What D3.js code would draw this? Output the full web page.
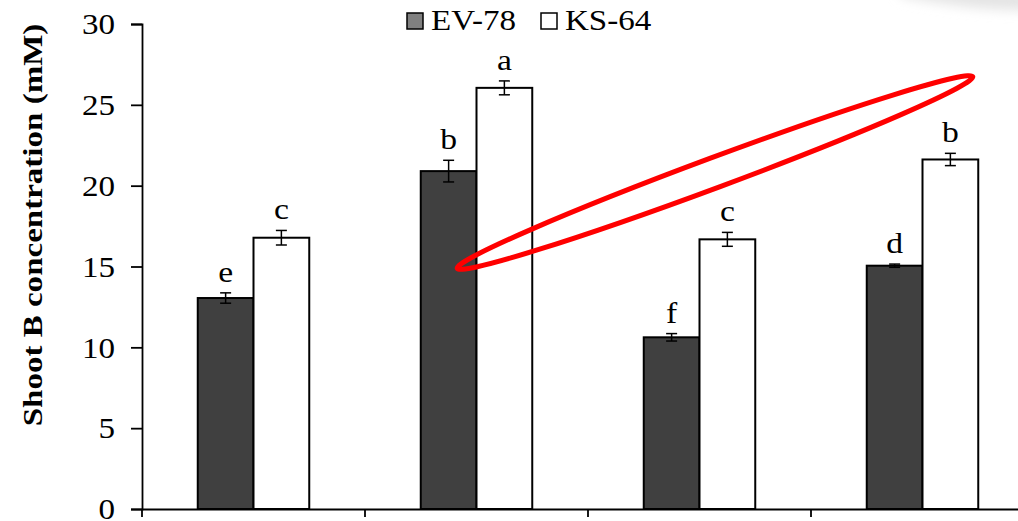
<!DOCTYPE html>
<html>
<head>
<meta charset="utf-8">
<script src="https://cdn.jsdelivr.net/npm/d3@7"></script>
<style>
  html, body { margin: 0; padding: 0; background: #fff; }
  svg { display: block; }
  text { font-family: "Liberation Serif", "Times New Roman", serif; fill: #000; }
</style>
</head>
<body>
<svg id="chart" width="1018" height="521"></svg>
<script>
// Shoot boron concentration for two genotypes across four treatments
const categories = ["T1", "T2", "T3", "T4"];
const seriesNames = ["EV-78", "KS-64"];
const ev78 = [13.05, 20.9, 10.62, 15.05];
const ks64 = [16.78, 26.05, 16.68, 21.62];
const ev78Err = [0.32, 0.67, 0.23, 0.1];
const ks64Err = [0.45, 0.43, 0.43, 0.38];
const ev78Letters = ["e", "b", "f", "d"];
const ks64Letters = ["c", "a", "c", "b"];
const yTicks = [0, 5, 10, 15, 20, 25, 30];

const seriesFill = ["#404040", "#ffffff"];
const legendFill = ["#808080", "#ffffff"];
const wide = "scale(1.16,1)"; // slightly widened serif glyphs

const svg = d3.select("#chart");

const rows = categories.map((c, i) => ({
  cat: c,
  vals: [
    { s: 0, v: ev78[i], e: ev78Err[i], l: ev78Letters[i] },
    { s: 1, v: ks64[i], e: ks64Err[i], l: ks64Letters[i] }
  ]
}));

const x0 = d3.scaleBand().domain(categories).range([142, 1034]).paddingInner(0.5).paddingOuter(0.25);
const xAxisScale = d3.scaleBand().domain(categories).range([142, 1034]);
const x1 = d3.scaleBand().domain([0, 1]).range([0, x0.bandwidth()]);
const y = d3.scaleLinear().domain([0, 30]).range([509, 24]);

// top-right soft shadow
const defs = svg.append("defs");
defs.append("filter").attr("id", "soft").attr("x", "-50%").attr("y", "-50%").attr("width", "200%").attr("height", "200%")
  .append("feGaussianBlur").attr("stdDeviation", 6);
svg.append("path")
  .attr("d", "M900,-20 L1040,-20 L1040,10 Q980,12 900,-4 Z")
  .attr("fill", "#e4e4e4")
  .attr("filter", "url(#soft)");

// bars
const g = svg.append("g").selectAll("g").data(rows).join("g")
  .attr("transform", d => `translate(${x0(d.cat)},0)`);

g.selectAll("rect").data(d => d.vals).join("rect")
  .attr("x", d => x1(d.s))
  .attr("y", d => y(d.v))
  .attr("width", x1.bandwidth())
  .attr("height", d => y(0) - y(d.v))
  .attr("fill", d => seriesFill[d.s])
  .attr("stroke", "#000")
  .attr("stroke-width", 2);

// error bars
const cx = d => x1(d.s) + x1.bandwidth() / 2;
const eb = g.selectAll("g.err").data(d => d.vals).join("g").attr("class", "err")
  .attr("stroke", "#000").attr("stroke-width", 1.5);
eb.append("line")
  .attr("x1", cx).attr("x2", cx)
  .attr("y1", d => y(d.v + d.e)).attr("y2", d => y(d.v - d.e));
eb.append("line")
  .attr("x1", d => cx(d) - 5.5).attr("x2", d => cx(d) + 5.5)
  .attr("y1", d => y(d.v + d.e)).attr("y2", d => y(d.v + d.e));
eb.append("line")
  .attr("x1", d => cx(d) - 5.5).attr("x2", d => cx(d) + 5.5)
  .attr("y1", d => y(d.v - d.e)).attr("y2", d => y(d.v - d.e));

// significance letters
g.selectAll("text.lbl").data(d => d.vals).join("text").attr("class", "lbl")
  .attr("transform", d => `translate(${cx(d)},${y(d.v + d.e) - 11}) ${wide}`)
  .attr("text-anchor", "middle")
  .attr("font-size", 29)
  .text(d => d.l);

// axes
const yAxis = svg.append("g").attr("transform", "translate(142,0)")
  .call(d3.axisLeft(y).tickValues(yTicks).tickSize(11).tickPadding(16));
yAxis.select(".domain").attr("stroke", "#000").attr("stroke-width", 1.8);
yAxis.selectAll(".tick line").attr("stroke", "#000").attr("stroke-width", 1.8);
yAxis.selectAll(".tick text")
  .attr("x", null).attr("dy", "0.34em")
  .attr("transform", `translate(-27,0) ${wide}`)
  .attr("font-size", 28.5).attr("font-family", "Liberation Serif").attr("fill", "#000");

const xAxis = svg.append("g").attr("transform", "translate(0,509)")
  .call(d3.axisBottom(xAxisScale).tickSize(8).tickSizeOuter(0).tickFormat(""));
xAxis.select(".domain").attr("stroke", "#000").attr("stroke-width", 1.8);
xAxis.selectAll(".tick line").attr("stroke", "#000").attr("stroke-width", 1.8)
  .attr("transform", `translate(${-xAxisScale.bandwidth() / 2},0)`);

// y title
svg.append("text")
  .attr("transform", "translate(42,225) rotate(-90) scale(1.18,1)")
  .attr("text-anchor", "middle")
  .attr("font-size", 28)
  .attr("font-weight", "bold")
  .text("Shoot B concentration (mM)");

// legend
const legendX = [407, 541];
const lg = svg.append("g").selectAll("g").data(seriesNames).join("g")
  .attr("transform", (d, i) => `translate(${legendX[i]},13)`);
lg.append("rect").attr("width", 16).attr("height", 16)
  .attr("fill", (d, i) => legendFill[i]).attr("stroke", "#000").attr("stroke-width", 1.5);
lg.append("text").attr("transform", `translate(24,17) ${wide}`).attr("font-size", 28.5).text(d => d);

// highlight ellipse
svg.append("ellipse")
  .attr("transform", "translate(715,172.5) rotate(-20.4)")
  .attr("rx", 275).attr("ry", 15)
  .attr("fill", "none").attr("stroke", "#ff0000").attr("stroke-width", 5);
</script>
</body>
</html>
